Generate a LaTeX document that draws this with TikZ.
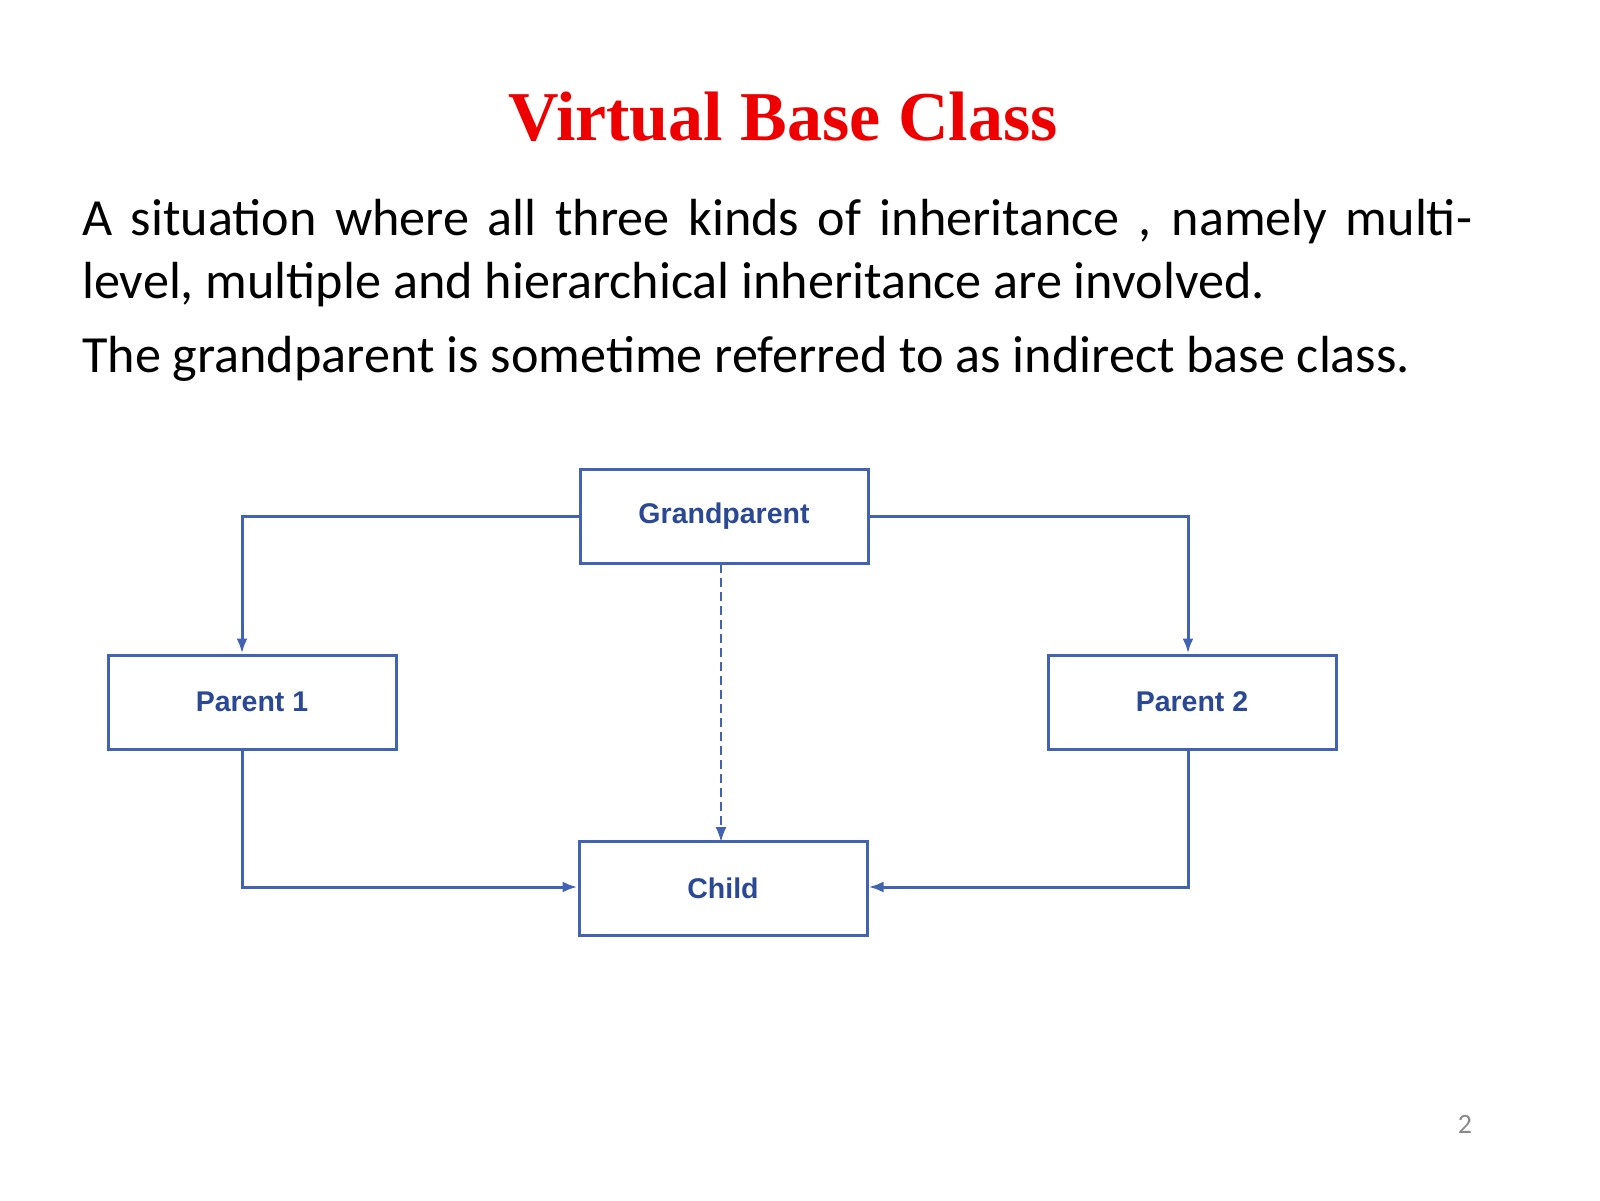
\documentclass[tikz,border=0pt]{standalone}
\usepackage{fontspec}
\setmainfont{Carlito}
\newfontfamily\titlefont{Liberation Serif}
\newfontfamily\boxfont{Liberation Sans}
\usetikzlibrary{arrows.meta}
\definecolor{titlered}{HTML}{EE0000}
\definecolor{boxline}{HTML}{4262B2}
\definecolor{boxtext}{HTML}{2A4894}
\definecolor{pagegray}{HTML}{8A8A8A}
\tikzset{
  classbox/.style={draw=boxline, line width=3pt, minimum width=288pt, minimum height=94pt,
    inner sep=0pt, font=\boxfont\bfseries\fontsize{28.5}{32}\selectfont, text=boxtext},
  link/.style={draw=boxline, line width=3pt, -{Latex[length=15pt,width=11pt]}},
  virtuallink/.style={link, line width=2pt, dash pattern=on 9pt off 5pt},
  bodyline/.style={anchor=base west, inner sep=0pt, font=\fontsize{52.2}{64}\selectfont, text=black},
}
\begin{document}
\begin{tikzpicture}[x=1pt,y=-1pt]
\useasboundingbox (0,0) rectangle (1600,1200);
\node[anchor=base, inner sep=0pt, text=titlered, font=\titlefont\bfseries\fontsize{70}{80}\selectfont] (title) at (783,140) {Virtual Base Class};
\node[bodyline] (l1) at (82,235) {\makebox[1390pt][s]{A situation where all three kinds of inheritance , namely multi-}};
\node[bodyline] (l2) at (82,298) {level, multiple and hierarchical inheritance are involved.};
\node[bodyline] (l3) at (82,372) {The grandparent is sometime referred to as indirect base class.};

\node[classbox] (gp) at (724,516) {Grandparent};
\node[classbox] (p1) at (252,702) {Parent 1};
\node[classbox] (p2) at (1192,702) {Parent 2};
\node[classbox] (ch) at (723,888) {Child};

\coordinate (c1) at (242,516);
\coordinate (c2) at (1188,516);
\coordinate (c3) at (242,887);
\coordinate (c4) at (1188,887);
\draw[link] (gp.west |- c1) -- (c1) -- (c1 |- p1.north);
\draw[link] (gp.east |- c2) -- (c2) -- (c2 |- p2.north);
\draw[virtuallink] (721,564) -- (721,842);
\draw[link] (c3 |- p1.south) -- (c3) -- (c3 -| ch.west);
\draw[link] (c4 |- p2.south) -- (c4) -- (c4 -| ch.east);

\node[anchor=base, inner sep=0pt, text=pagegray, font=\fontsize{28}{32}\selectfont] (pg) at (1465,1133) {2};
\end{tikzpicture}
\end{document}
